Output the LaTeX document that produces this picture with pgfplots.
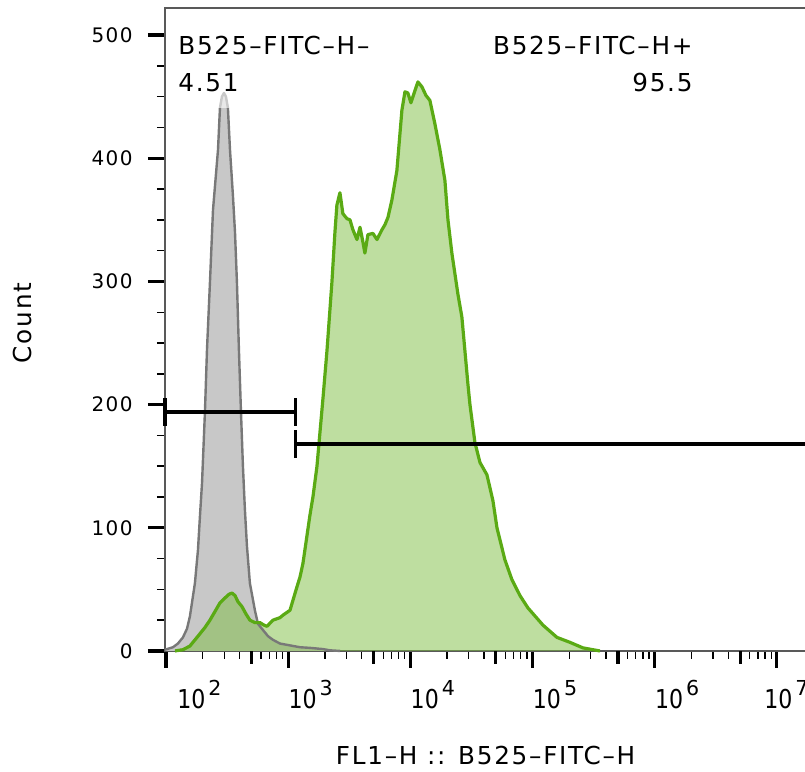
\documentclass[border=0pt]{standalone}
\usepackage{fontspec}
\setmainfont{DejaVu Sans}[LetterSpace=7]
\newfontfamily\tickfont{DejaVu Sans}
\usepackage{graphicx}
\usepackage{pgfplots}
\pgfplotsset{compat=1.18}
\usepackage{pgfplotstable}
\usetikzlibrary{calc}
\definecolor{grayfill}{RGB}{200,200,200}
\definecolor{grayline}{RGB}{120,120,120}
\definecolor{greenline}{RGB}{90,170,20}
\definecolor{greenfill}{RGB}{125,189,65}
\newcommand{\dec}[1]{{\tickfont\scalebox{0.85}[1]{\fontsize{13}{15}\selectfont 10}\kern1.5pt\raisebox{6.5pt}{\fontsize{10.3}{12}\selectfont #1}}}

\pgfplotstableread{
x y
1.992 1
2.057 3
2.098 6
2.139 11
2.172 18
2.196 28
2.237 55
2.262 82
2.278 109
2.295 136
2.319 194
2.336 245
2.360 299
2.385 358
2.426 407
2.442 441
2.458 450
2.475 453
2.491 450
2.507 441
2.524 407
2.548 370
2.565 340
2.581 299
2.597 245
2.614 194
2.630 150
2.646 115
2.663 85
2.687 55
2.728 33
2.753 22
2.794 17
2.835 12
2.876 9
2.933 6
3.015 4.5
3.097 3
3.178 2.5
3.285 1.5
3.342 0.5
3.424 0
}\graydata

\pgfplotstableread{
x y
2.074 0
2.139 1
2.196 4
2.254 11
2.319 19
2.360 25
2.401 32
2.442 39
2.483 43
2.516 46
2.540 47
2.565 45
2.589 40
2.622 36
2.655 30
2.687 25
2.728 23
2.769 23
2.802 21
2.827 20
2.876 25
2.933 27
2.957 29
3.015 33
3.039 41
3.072 52
3.097 60
3.121 71
3.146 88
3.178 110
3.203 125
3.236 150
3.260 177
3.285 205
3.318 244
3.358 299
3.383 340
3.399 362
3.424 372
3.448 355
3.481 351
3.506 350
3.530 342
3.563 334
3.588 344
3.612 332
3.628 323
3.653 338
3.694 339
3.727 334
3.768 342
3.792 346
3.817 352
3.849 366
3.890 390
3.931 439
3.956 454
3.980 453
4.005 445
4.038 455
4.062 462
4.095 458
4.128 451
4.160 447
4.201 428
4.242 407
4.283 382
4.308 350
4.340 323
4.389 290
4.422 271
4.471 217
4.488 200
4.529 169
4.570 153
4.627 143
4.676 122
4.709 100
4.774 74
4.831 58
4.897 45
4.962 35
5.085 21
5.200 11
5.306 7
5.412 2.5
5.494 1
5.552 0
}\greendata

\begin{document}
\begin{tikzpicture}
\begin{axis}[
  scale only axis, width=320.65pt, height=321.5pt,
  xmin=1.992, xmax=7.24, ymin=0, ymax=522,
  clip=false,
  axis line style={draw=black!65, line width=0.6pt},
  tick align=outside, xtick pos=bottom, ytick pos=left,
  xtick={2,3,4,5,6,7},
  xticklabels={\hspace*{5.5pt}\dec{2},\dec{3},\dec{4},\dec{5},\dec{6},\hspace*{-6.5pt}\dec{7}},
  minor xtick={2.301,2.477,2.602,2.778,2.845,2.903,2.954,
               3.301,3.477,3.602,3.778,3.845,3.903,3.954,
               4.301,4.477,4.602,4.778,4.845,4.903,4.954,
               5.301,5.477,5.602,5.778,5.845,5.903,5.954,
               6.301,6.477,6.602,6.778,6.845,6.903,6.954},
  extra x ticks={2.699,3.699,4.699,5.699,6.699},
  extra x tick labels={},
  extra x tick style={major tick length=6.5pt},
  ytick={0,100,...,500}, minor y tick num=3,
  major tick length=8.5pt, minor tick length=4pt,
  major tick style={black, line width=1.6pt},
  minor tick style={black, line width=0.7pt},
  xticklabel style={anchor=north west, inner sep=0pt, yshift=-6pt},
  yticklabel style={font=\fontsize{10}{12}\selectfont, inner sep=0pt, xshift=-7.5pt},
  /pgf/number format/assume math mode=true,
  xlabel={FL1–H :: B525–FITC–H}, ylabel={Count},
  label style={font=\fontsize{12.35}{14}\selectfont},
  xlabel style={at={(axis description cs:0.5,-0.1773)}, anchor=base},
  ylabel style={at={(axis description cs:-0.2214,0.51)}, anchor=center},
]
\addplot[draw=none, fill=grayfill] table {\graydata} \closedcycle;
\addplot[draw=none, fill=greenfill, fill opacity=0.5] table {\greendata} \closedcycle;
\addplot[grayline, line width=1.2pt, line join=round] table {\graydata};
\addplot[greenline, line width=1.6pt, line join=round] table {\greendata};
\fill[white, fill opacity=0.6] (axis cs:2.05,441) rectangle (axis cs:3.72,512);
% gates
\addplot[black, line width=1.6pt] coordinates {(1.992,194) (3.058,194)};
\addplot[black, line width=1.6pt] coordinates {(1.992,183) (1.992,205)};
\addplot[black, line width=1.6pt] coordinates {(3.058,183) (3.058,205)};
\addplot[black, line width=1.6pt] coordinates {(3.058,168) (7.24,168)};
\addplot[black, line width=1.6pt] coordinates {(3.058,157) (3.058,179)};
\node[anchor=base west, inner sep=0pt, font=\fontsize{12.35}{14}\selectfont] at (axis cs:2.098,484) {B525–FITC–H–};
\node[anchor=base west, inner sep=0pt, font=\fontsize{12.35}{14}\selectfont] at (axis cs:2.098,454.5) {4.51};
\node[anchor=base east, inner sep=0pt, font=\fontsize{12.35}{14}\selectfont] at (axis cs:6.313,484) {B525–FITC–H+};
\node[anchor=base east, inner sep=0pt, font=\fontsize{12.35}{14}\selectfont] at (axis cs:6.313,454.5) {95.5};
\end{axis}
\pgfresetboundingbox
\path ($(current axis.south west)+(-82.5pt,-60.5pt)$) rectangle ($(current axis.north east)+(-0.6pt,4pt)$);
\end{tikzpicture}
\end{document}
